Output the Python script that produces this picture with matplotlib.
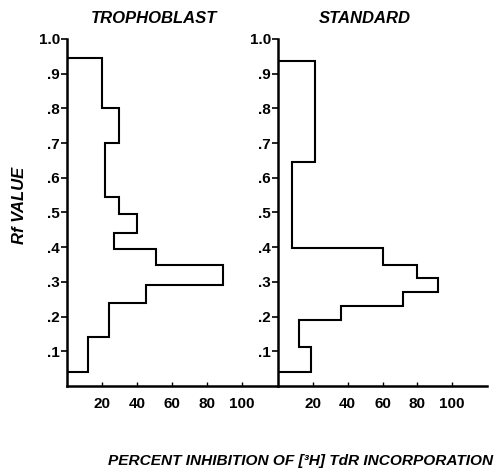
import matplotlib
matplotlib.use("Agg")
import matplotlib.pyplot as plt

# Rf bin edges (top -> bottom) and percent inhibition per bin
troph_edges = [0.945, 0.80, 0.70, 0.545, 0.495, 0.44, 0.395, 0.35, 0.29, 0.24, 0.14, 0.04]
troph_vals = [20, 30, 22, 30, 40, 27, 51, 89, 45, 24, 12]

std_edges = [0.937, 0.645, 0.397, 0.35, 0.31, 0.27, 0.23, 0.19, 0.113, 0.04]
std_vals = [21, 8, 60, 80, 92, 72, 36, 12, 19]

titles = ["TROPHOBLAST", "STANDARD"]
y_ticks = [0.1, 0.2, 0.3, 0.4, 0.5, 0.6, 0.7, 0.8, 0.9, 1.0]
y_labels = [".1", ".2", ".3", ".4", ".5", ".6", ".7", ".8", ".9", "1.0"]
x_ticks = [20, 40, 60, 80, 100]

plt.rcParams['font.family'] = ['Liberation Sans', 'DejaVu Sans']
plt.rcParams['font.weight'] = 'bold'

fig = plt.figure(figsize=(4.97, 4.73), dpi=100)
ax1 = fig.add_axes([0.1348, 0.184, 0.4225, 0.7336])
ax2 = fig.add_axes([0.5594, 0.184, 0.4205, 0.7336])


def step_outline(edges, vals):
    # trace the histogram outline from the axis at the top edge down to the axis at the bottom
    xs = [0]
    ys = [edges[0]]
    for i, v in enumerate(vals):
        xs += [v, v]
        ys += [edges[i], edges[i + 1]]
    xs.append(0)
    ys.append(edges[-1])
    return xs, ys


for ax, edges, vals, title in zip([ax1, ax2], [troph_edges, std_edges],
                                  [troph_vals, std_vals], titles):
    xs, ys = step_outline(edges, vals)
    ax.plot(xs, ys, color='black', lw=1.5, solid_joinstyle='miter')
    ax.set_xlim(0, 120)
    ax.set_ylim(0, 1.0)
    ax.spines['top'].set_visible(False)
    ax.spines['right'].set_visible(False)
    ax.spines['left'].set_linewidth(1.8)
    ax.spines['bottom'].set_linewidth(1.8)
    ax.set_yticks(y_ticks)
    ax.set_yticklabels(y_labels, fontsize=11, fontweight='bold')
    ax.set_xticks(x_ticks)
    ax.set_xticklabels([str(t) for t in x_ticks], fontsize=11, fontweight='bold')
    ax.tick_params(axis='y', direction='out', length=4, width=1.2, pad=1)
    ax.tick_params(axis='x', direction='in', length=3, width=1, pad=8)
    ax.text(50, 1.06, title, fontsize=12, fontweight='bold', style='italic',
            ha='center', va='center')

fig.text(0.04, 0.565, "Rf VALUE", rotation=90, fontsize=12, fontweight='bold',
         style='italic', ha='center', va='center')
fig.text(0.605, 0.025, "PERCENT INHIBITION OF [\u00b3H] TdR INCORPORATION", fontsize=11.1,
         fontweight='bold', style='italic', ha='center', va='center')

fig.savefig("out.png", dpi=100)
